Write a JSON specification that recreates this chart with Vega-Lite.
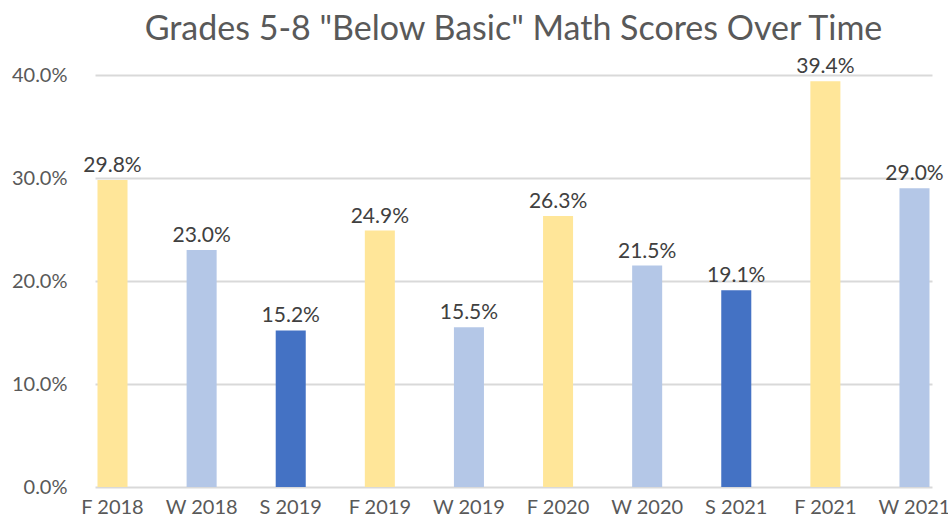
{
  "$schema": "https://vega.github.io/schema/vega-lite/v6.json",
  "width": 837,
  "height": 412,
  "autosize": "none",
  "padding": {"left": 95, "top": 75, "right": 16, "bottom": 40},
  "background": "white",
  "title": {
    "text": "Grades 5-8 \"Below Basic\" Math Scores Over Time",
    "font": "Lato",
    "fontSize": 34,
    "fontWeight": "normal",
    "color": "#595959",
    "anchor": "middle",
    "baseline": "alphabetic",
    "offset": 0,
    "dy": 18
  },
  "data": {
    "values": [
      {"term": "F 2018", "season": "F", "value": 0.298},
      {"term": "W 2018", "season": "W", "value": 0.230},
      {"term": "S 2019", "season": "S", "value": 0.152},
      {"term": "F 2019", "season": "F", "value": 0.249},
      {"term": "W 2019", "season": "W", "value": 0.155},
      {"term": "F 2020", "season": "F", "value": 0.263},
      {"term": "W 2020", "season": "W", "value": 0.215},
      {"term": "S 2021", "season": "S", "value": 0.191},
      {"term": "F 2021", "season": "F", "value": 0.394},
      {"term": "W 2021", "season": "W", "value": 0.290}
    ]
  },
  "encoding": {
    "x": {
      "field": "term",
      "type": "nominal",
      "sort": null,
      "scale": {"paddingInner": 0.663, "paddingOuter": 0.028},
      "axis": {
        "title": null,
        "labelAngle": 0,
        "domain": false,
        "ticks": false,
        "labelPadding": 10,
        "labelFont": "Lato",
        "labelFontSize": 20,
        "labelColor": "#595959"
      }
    },
    "y": {
      "field": "value",
      "type": "quantitative",
      "scale": {"domain": [0, 0.4], "nice": false},
      "axis": {
        "title": null,
        "values": [0, 0.1, 0.2, 0.3, 0.4],
        "format": ".1%",
        "domain": false,
        "ticks": false,
        "labelPadding": 28,
        "labelFont": "Lato",
        "labelFontSize": 20,
        "labelColor": "#595959",
        "gridColor": "#d9d9d9",
        "gridWidth": 2
      }
    }
  },
  "layer": [
    {
      "mark": {"type": "bar"},
      "encoding": {
        "color": {
          "field": "season",
          "type": "nominal",
          "scale": {"domain": ["F", "W", "S"], "range": ["#FFE699", "#B4C7E7", "#4472C4"]},
          "legend": null
        }
      }
    },
    {
      "mark": {"type": "text", "baseline": "alphabetic", "dy": -8, "font": "Lato", "fontSize": 21, "color": "#404040"},
      "encoding": {
        "text": {"field": "value", "type": "quantitative", "format": ".1%"}
      }
    }
  ],
  "config": {"view": {"stroke": null}}
}
